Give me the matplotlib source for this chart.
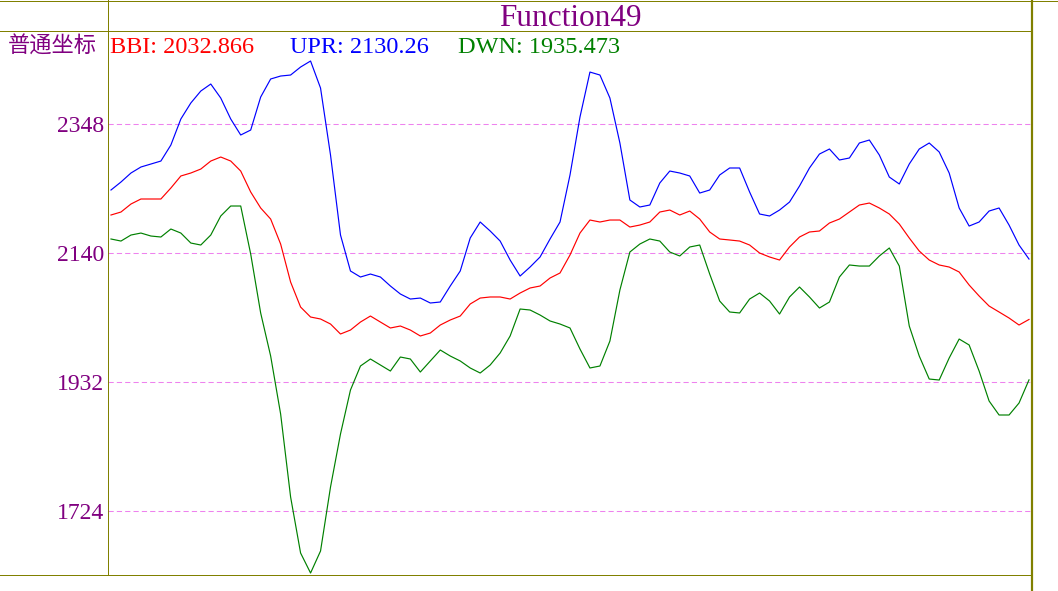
import matplotlib
matplotlib.use("Agg")
import matplotlib.pyplot as plt
from matplotlib.lines import Line2D

# values, one per bar
bbi = [2201.3, 2206.1, 2219.0, 2227.1, 2227.1, 2227.1, 2244.8, 2264.2, 2269.0, 2275.4,
       2288.3, 2294.8, 2288.3, 2272.2, 2238.4, 2212.6, 2194.8, 2154.5, 2093.2, 2052.9,
       2036.8, 2033.6, 2025.5, 2009.4, 2015.8, 2028.7, 2038.4, 2028.7, 2019.1, 2022.3,
       2015.8, 2006.2, 2011.0, 2023.9, 2032.0, 2038.4, 2057.8, 2067.4, 2069.1, 2069.1,
       2065.8, 2075.5, 2083.6, 2086.8, 2099.7, 2107.8, 2136.8, 2172.2, 2193.2, 2190.0,
       2193.2, 2193.2, 2181.9, 2185.1, 2190.0, 2206.1, 2209.3, 2201.3, 2207.7, 2194.8,
       2173.9, 2162.6, 2161.0, 2159.3, 2152.9, 2140.0, 2133.6, 2128.7, 2149.7, 2165.8,
       2173.9, 2175.5, 2188.4, 2194.8, 2206.1, 2217.4, 2220.6, 2212.6, 2202.9, 2186.8,
       2164.2, 2143.2, 2128.7, 2120.7, 2117.4, 2109.4, 2088.4, 2070.7, 2054.5, 2044.9,
       2035.2, 2023.9, 2032.866]
upr = [2241.6, 2254.5, 2269.0, 2278.7, 2283.5, 2288.3, 2314.1, 2356.1, 2381.9, 2401.2,
       2412.5, 2389.9, 2356.1, 2330.3, 2338.3, 2391.5, 2420.6, 2425.4, 2427.0, 2439.9,
       2449.6, 2406.0, 2298.0, 2169.0, 2111.0, 2101.3, 2106.1, 2101.3, 2086.8, 2073.9,
       2065.8, 2067.4, 2059.4, 2061.0, 2086.8, 2111.0, 2164.2, 2190.0, 2175.5, 2159.3,
       2128.7, 2102.9, 2117.4, 2133.6, 2162.6, 2190.0, 2265.8, 2359.3, 2431.8, 2427.0,
       2389.9, 2317.4, 2225.5, 2214.2, 2217.4, 2252.9, 2272.2, 2269.0, 2264.2, 2236.7,
       2241.6, 2265.8, 2277.1, 2277.1, 2238.4, 2202.9, 2199.7, 2209.3, 2222.2, 2248.0,
       2277.1, 2299.6, 2307.7, 2290.0, 2293.2, 2317.4, 2322.2, 2298.0, 2262.5, 2251.3,
       2283.5, 2307.7, 2317.4, 2302.9, 2269.0, 2212.6, 2183.5, 2190.0, 2207.7, 2212.6,
       2185.1, 2152.9, 2130.26]
dwn = [2162.6, 2159.3, 2169.0, 2172.2, 2167.4, 2165.8, 2178.7, 2172.2, 2156.1, 2152.9,
       2169.0, 2199.7, 2215.8, 2215.8, 2138.4, 2043.3, 1973.9, 1880.4, 1746.6, 1656.3,
       1624.0, 1659.5, 1762.7, 1848.2, 1919.1, 1957.8, 1969.1, 1959.4, 1949.7, 1972.3,
       1969.1, 1948.1, 1965.9, 1983.6, 1973.9, 1965.9, 1954.6, 1946.5, 1959.4, 1978.8,
       2006.2, 2049.7, 2048.1, 2040.0, 2030.4, 2025.5, 2019.1, 1985.2, 1954.6, 1957.8,
       1998.1, 2080.3, 2141.6, 2154.5, 2162.6, 2159.3, 2141.6, 2135.2, 2149.7, 2152.9,
       2106.1, 2062.6, 2044.9, 2043.3, 2065.8, 2075.5, 2062.6, 2041.6, 2069.1, 2085.2,
       2069.1, 2051.3, 2061.0, 2101.3, 2120.7, 2119.0, 2119.0, 2135.2, 2148.1, 2119.0,
       2022.3, 1973.9, 1936.8, 1935.2, 1970.7, 2001.3, 1991.7, 1949.7, 1901.4, 1878.8,
       1878.8, 1898.1, 1935.473]
yticks = [1724, 1932, 2140, 2348]
title = "Function49"
mode_label = "普通坐标"

W, H = 1058, 591
OLIVE = "#808000"
PURPLE = "#800080"


def fx(px):
    return px / W


def fy(py):
    return 1 - py / H


fig = plt.figure(figsize=(W / 100, H / 100), dpi=100)
ax = fig.add_axes([fx(108), fy(575), fx(1032) - fx(108), fy(31) - fy(575)])

x = list(range(len(bbi)))
ax.plot(x, upr, color="#0000FF", lw=0.85)
ax.plot(x, bbi, color="#FF0000", lw=0.85)
ax.plot(x, dwn, color="#008000", lw=0.85)

ax.set_xlim(-0.3, len(bbi) - 1 + 0.3)
ax.set_ylim(1620.8, 2498.0)
for v in yticks:
    ax.axhline(v, color="#EE82EE", lw=0.75, linestyle=(0, (5, 3)), zorder=0)

ax.set_xticks([])
ax.set_yticks(yticks)
ax.set_yticklabels([str(v) for v in yticks], family="Liberation Serif",
                   fontsize=17, color=PURPLE)
ax.tick_params(axis="y", length=0, pad=3)
for s in ax.spines.values():
    s.set_visible(False)

# frame lines of the panel
frame = [((0, 1058), (1, 1), 1.0), ((0, 1032), (31, 31), 1.0),
         ((0, 1032), (575, 575), 1.0), ((108, 108), (0, 575), 1.0),
         ((1032, 1032), (0, 591), 2.2)]
for xs, ys, lw in frame:
    fig.add_artist(Line2D([fx(xs[0]), fx(xs[1])], [fy(ys[0]), fy(ys[1])],
                          color=OLIVE, lw=lw * 0.72, transform=fig.transFigure))

fig.text(fx(570), fy(26), title, ha="center", va="baseline",
         family="Liberation Serif", fontsize=22.5, color=PURPLE)
fig.text(fx(8), fy(53), mode_label, ha="left", va="baseline",
         family=["Noto Sans CJK SC", "DejaVu Sans"], fontsize=16, color=PURPLE)
fig.text(fx(110), fy(53), f"BBI: {bbi[-1]}", ha="left", va="baseline",
         family="Liberation Serif", fontsize=17.5, color="#FF0000")
fig.text(fx(290), fy(53), f"UPR: {upr[-1]}", ha="left", va="baseline",
         family="Liberation Serif", fontsize=17.5, color="#0000FF")
fig.text(fx(458), fy(53), f"DWN: {dwn[-1]}", ha="left", va="baseline",
         family="Liberation Serif", fontsize=17.5, color="#008000")

fig.savefig("out.png", dpi=100)
